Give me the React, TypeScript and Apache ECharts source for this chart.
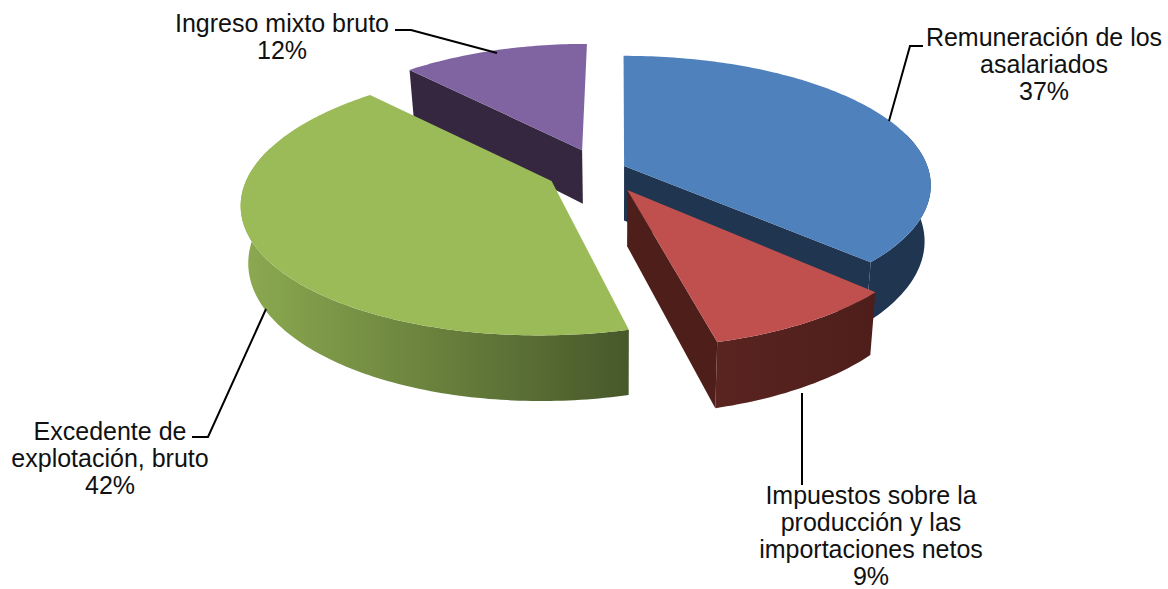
import React, { useEffect, useRef } from "react";
import * as echarts from "echarts";

const categories = [
  "Remuneración de los\nasalariados",
  "Impuestos sobre la\nproducción y las\nimportaciones netos",
  "Excedente de\nexplotación, bruto",
  "Ingreso mixto bruto",
];
const values = [37, 9, 42, 12];

// Styling and layout, separate from the data
const topColors = ["#4F81BD", "#C0504D", "#9BBB59", "#8064A2"];
const wallFrom = ["#1F3550", "#5A2420", "#8CAA50", "#35273F"];
const wallTo = ["#1F3550", "#4E1E1B", "#47582A", "#35273F"];
const drawOrder = [3, 0, 2, 1];
const explodeX = [0.0135, 0.024, -0.224, -0.133];
const explodeY = [-0.04, 0.145, 0.077, -0.167];
const radiusX = [305, 297, 302, 292];
const CX = 620, CY = 171, RY = 128, P = 0.15, DEPTH = 55, BASE_SCALE = 0.98;
const WALL_MIN = (75 * Math.PI) / 180, WALL_MAX = (285 * Math.PI) / 180;

const labelCenters = [
  [1044, 64],
  [871, 535],
  [110, 458],
  [282, 36],
];
const leaders = [
  [[923, 46], [910, 46], [889, 121]],
  [[802, 393], [802, 485]],
  [[192, 437], [208, 437], [266, 309]],
  [[395, 30], [411, 30], [497, 53]],
];

const total = values.reduce((a, b) => a + b, 0);
const starts: number[] = [];
values.reduce((acc, v, i) => {
  starts[i] = acc;
  return acc + (v / total) * Math.PI * 2;
}, 0);

function project(i: number, wx: number, wy: number, bottom: boolean) {
  const X = explodeX[i] + wx;
  const Y = explodeY[i] + wy;
  const s = 1 / (1 - P * Y);
  let x = CX + radiusX[i] * X * s;
  const y = CY + RY * Y * s + (bottom ? DEPTH * s : 0);
  if (bottom) x = CX + (x - CX) * BASE_SCALE;
  return [x, y];
}
const rim = (i: number, a: number, bottom: boolean) => project(i, Math.sin(a), -Math.cos(a), bottom);

function arc(i: number, from: number, to: number, bottom: boolean) {
  const n = Math.max(2, Math.ceil(((to - from) * 180) / Math.PI));
  const pts: number[][] = [];
  for (let k = 0; k <= n; k++) pts.push(rim(i, from + ((to - from) * k) / n, bottom));
  return pts;
}

function renderSlice(params: any, api: any) {
  const i = params.dataIndex;
  const a0 = starts[i];
  const a1 = a0 + (api.value(0) / total) * Math.PI * 2;
  const apexT = project(i, 0, 0, false);
  const apexB = project(i, 0, 0, true);
  const z2 = drawOrder.indexOf(i) * 10;
  const flat = wallTo[i];
  const children: any[] = [];
  // A cut face is only drawn when it turns towards the viewer.
  if (-Math.sin(a0) > 0.001) {
    children.push({
      type: "polygon", z2,
      shape: { points: [apexT, rim(i, a0, false), rim(i, a0, true), apexB] },
      style: { fill: flat },
    });
  }
  if (Math.sin(a1) > 0.001) {
    children.push({
      type: "polygon", z2: z2 + 1,
      shape: { points: [apexT, rim(i, a1, false), rim(i, a1, true), apexB] },
      style: { fill: flat },
    });
  }
  const w0 = Math.max(a0, WALL_MIN);
  const w1 = Math.min(a1, WALL_MAX);
  if (w1 > w0) {
    children.push({
      type: "polygon", z2: z2 + 2,
      shape: { points: [...arc(i, w0, w1, false), ...arc(i, w0, w1, true).reverse()] },
      style: {
        fill: new echarts.graphic.LinearGradient(0, 0, 1, 0, [
          { offset: 0, color: wallFrom[i] },
          { offset: 1, color: wallTo[i] },
        ]),
      },
    });
  }
  children.push({
    type: "polygon", z2: z2 + 3,
    shape: { points: [apexT, ...arc(i, a0, a1, false)] },
    style: { fill: topColors[i] },
  });
  return { type: "group", children };
}

export default function App() {
  const ref = useRef<HTMLDivElement>(null);
  useEffect(() => {
    document.body.style.margin = "0";
    const chart = echarts.init(ref.current!, undefined, { renderer: "svg" });
    chart.setOption({
      animation: false,
      backgroundColor: "#ffffff",
      series: [
        {
          type: "custom",
          coordinateSystem: "none",
          silent: true,
          data: values.map((v, i) => ({ name: categories[i].replace(/\n/g, " "), value: v })),
          renderItem: renderSlice,
        },
      ],
      graphic: [
        ...leaders.map((pts) => ({
          type: "polyline",
          z: 10,
          shape: { points: pts },
          style: { stroke: "#000000", lineWidth: 2, fill: "none" },
        })),
        ...categories.map((c, i) => ({
          type: "text",
          z: 11,
          x: labelCenters[i][0],
          y: labelCenters[i][1],
          style: {
            text: `${c}\n${values[i]}%`,
            fill: "#111111",
            font: '25px "Liberation Sans", Arial, sans-serif',
            lineHeight: 27,
            align: "center",
            verticalAlign: "middle",
          },
        })),
      ],
    });
    return () => chart.dispose();
  }, []);
  return <div ref={ref} style={{ position: "absolute", left: 0, top: 0, width: 1168, height: 589 }} />;
}
